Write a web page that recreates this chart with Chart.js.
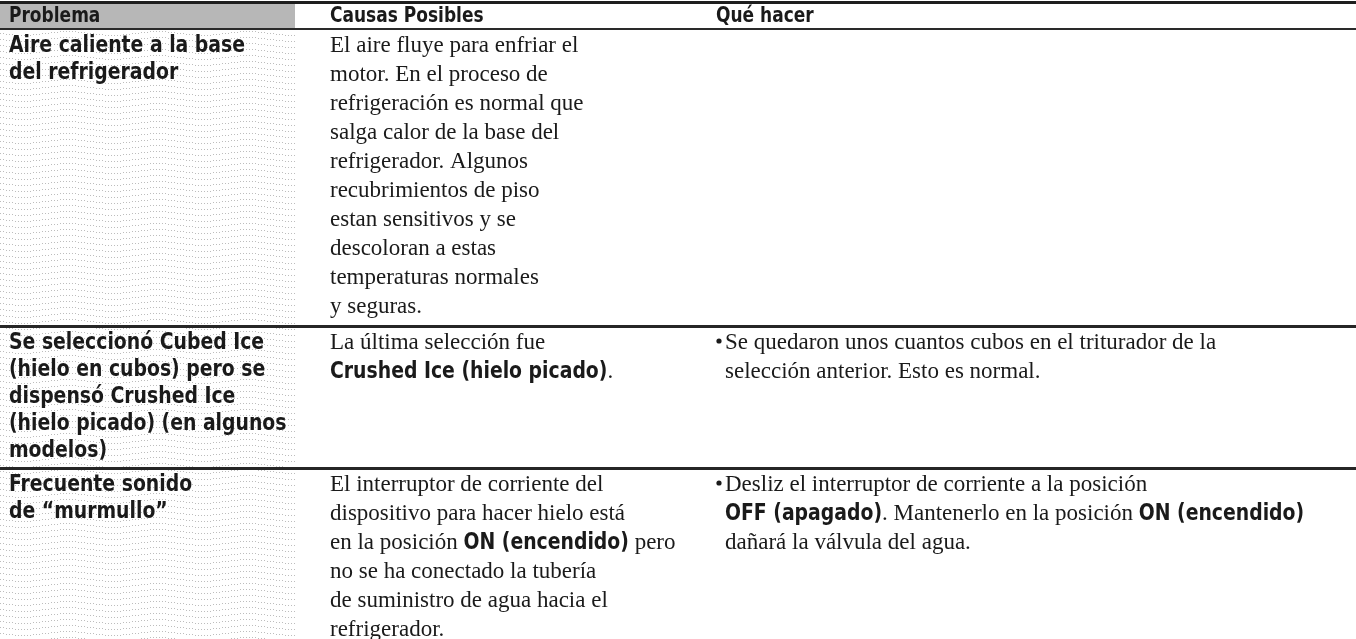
<!DOCTYPE html>
<html lang="es">
<head>
<meta charset="utf-8">
<title>Problema - Causas Posibles - Qué hacer</title>
<script src="https://cdn.jsdelivr.net/npm/chart.js@4.4.1/dist/chart.umd.min.js"></script>
<style>
  html, body { margin: 0; padding: 0; background: #fff; }
  #wrap { width: 1356px; height: 639px; }
</style>
</head>
<body>
<div id="wrap">
  <canvas id="tabla" width="1356" height="639">
    Problema / Causas Posibles / Qué hacer
  </canvas>
</div>
<script>
const headers = ['Problema', 'Causas Posibles', 'Qué hacer'];

// one entry per row, one string per printed line. *text* = bold
const problemas = [
  ['Aire caliente a la base', 'del refrigerador'],
  ['Se seleccionó Cubed Ice', '(hielo en cubos) pero se', 'dispensó Crushed Ice', '(hielo picado) (en algunos', 'modelos)'],
  ['Frecuente sonido', 'de “murmullo”'],
];

const causas = [
  ['El aire fluye para enfriar el', 'motor. En el proceso de', 'refrigeración es normal que',
   'salga calor de la base del', 'refrigerador. Algunos', 'recubrimientos de piso',
   'estan sensitivos y se', 'descoloran a estas', 'temperaturas normales', 'y seguras.'],
  ['La última selección fue', '*Crushed Ice (hielo picado)*.'],
  ['El interruptor de corriente del', 'dispositivo para hacer hielo está',
   'en la posición *ON (encendido)* pero', 'no se ha conectado la tubería',
   'de suministro de agua hacia el', 'refrigerador.'],
];

const queHacer = [
  [],
  ['Se quedaron unos cuantos cubos en el triturador de la', 'selección anterior. Esto es normal.'],
  ['Desliz el interruptor de corriente a la posición',
   '*OFF (apagado)*. Mantenerlo en la posición *ON (encendido)*',
   'dañará la válvula del agua.'],
];

// layout
const W = 1356, H = 639;
const colX = [9, 330, 716];
const shadeW = 295;
const serifLine = 29;
const sansLine = 27;
const rowPad = 4;
const sansBold = 'bold 23px "DejaVu Sans Condensed", "Liberation Sans Narrow", sans-serif';
const headFont = 'bold 22px "DejaVu Sans Condensed", "Liberation Sans Narrow", sans-serif';
const serif = '23px "Liberation Serif", "Times New Roman", serif';
const sansSquash = 0.91;
const headSquash = 0.86;

function makeShade() {
  const c = document.createElement('canvas');
  c.width = 90; c.height = 12;
  const g = c.getContext('2d');
  g.fillStyle = '#bdbdbd';
  for (let r = 0; r < 2; r++) {
    for (let x = 0; x < 90; x += 3) {
      const y = r * 6 + 3 + Math.round(2 * Math.sin((x / 90) * Math.PI * 2));
      g.fillRect(x, y, 1, 1);
    }
  }
  return c;
}

// draws regular / *bold* runs; bold runs are the condensed sans
function drawRich(ctx, text, x, y, regular, bold, squash) {
  let cx = x;
  text.split('*').forEach((part, i) => {
    if (!part) return;
    const isBold = i % 2 === 1;
    const sx = isBold ? squash : 1;
    ctx.font = isBold ? bold : regular;
    ctx.save();
    ctx.translate(cx, y);
    ctx.scale(sx, 1);
    ctx.fillText(part, 0, 0);
    ctx.restore();
    cx += ctx.measureText(part).width * sx;
  });
}

const tablePlugin = {
  id: 'tablePlugin',
  beforeDatasetsDraw(chart) {
    const { ctx, scales: { x, y } } = chart;
    const px = (v) => x.getPixelForValue(v);
    const py = (v) => y.getPixelForValue(v);
    const rule = (top, thick, color) => {
      ctx.fillStyle = color;
      ctx.fillRect(px(0), py(top), px(W) - px(0), thick);
    };

    ctx.save();
    ctx.textBaseline = 'alphabetic';

    // header
    ctx.fillStyle = '#b7b7b7';
    ctx.fillRect(px(0), py(3), px(shadeW) - px(0), py(29) - py(3));
    rule(1, 3, '#1e1e1e');
    rule(28, 2, '#2a2a2a');
    ctx.fillStyle = '#1a1a1a';
    headers.forEach((h, i) => drawRich(ctx, '*' + h + '*', px(colX[i]), py(22), serif, headFont, headSquash));

    const pattern = ctx.createPattern(makeShade(), 'repeat');
    let top = 31;
    problemas.forEach((prob, r) => {
      const serifN = Math.max(causas[r].length, queHacer[r].length);
      const last = r === problemas.length - 1;
      const h = Math.max(prob.length * sansLine, serifN * serifLine) + (last ? 0 : rowPad);

      ctx.fillStyle = pattern;
      ctx.fillRect(px(0), py(top), px(shadeW) - px(0), py(top + h) - py(top));

      ctx.fillStyle = '#1a1a1a';
      prob.forEach((t, k) => drawRich(ctx, '*' + t + '*', px(colX[0]), py(top + 21 + k * sansLine), serif, sansBold, sansSquash));
      causas[r].forEach((t, k) => drawRich(ctx, t, px(colX[1]), py(top + 21 + k * serifLine), serif, sansBold, sansSquash));
      queHacer[r].forEach((t, k) => {
        if (k === 0) {
          ctx.beginPath();
          ctx.arc(px(colX[2] + 3), py(top + 13), 2.6, 0, Math.PI * 2);
          ctx.fill();
        }
        drawRich(ctx, t, px(colX[2] + 9), py(top + 21 + k * serifLine), serif, sansBold, sansSquash);
      });

      if (!last) rule(top + h, 3, '#262626');
      top += h + 3;
    });
    ctx.restore();
  },
};

new Chart(document.getElementById('tabla'), {
  type: 'scatter',
  data: { datasets: [{ data: [] }] },
  options: {
    responsive: false,
    animation: false,
    layout: { padding: 0 },
    plugins: { legend: { display: false }, tooltip: { enabled: false } },
    scales: {
      x: { type: 'linear', min: 0, max: W, display: false },
      y: { type: 'linear', min: 0, max: H, reverse: true, display: false },
    },
  },
  plugins: [tablePlugin],
});
</script>
</body>
</html>
